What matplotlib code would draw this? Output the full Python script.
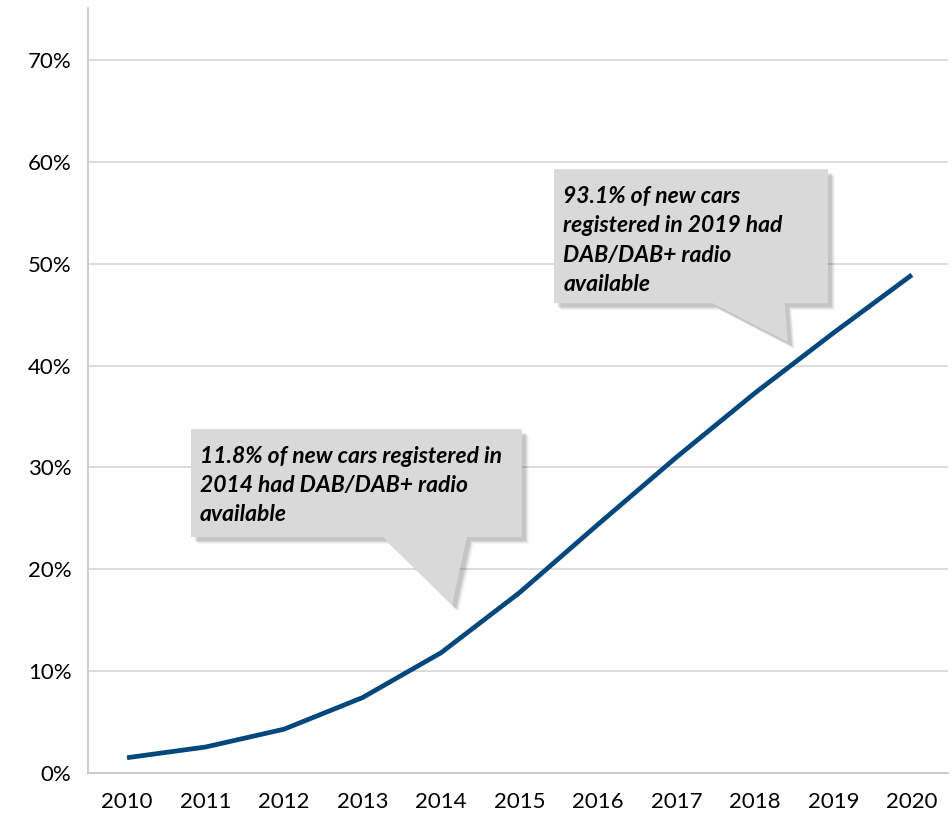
import numpy as np
import matplotlib.pyplot as plt
import matplotlib.transforms as mtransforms
from matplotlib.patches import Polygon

plt.rcParams['font.family'] = ['Lato', 'DejaVu Sans']

# share of new cars with DAB/DAB+ radio, in percent
years = [2010, 2011, 2012, 2013, 2014, 2015, 2016, 2017, 2018, 2019, 2020]
share = [1.5, 2.55, 4.3, 7.4, 11.8, 17.7, 24.4, 31.0, 37.3, 43.2, 48.9]
yticks = [0, 10, 20, 30, 40, 50, 60, 70]

note_2014 = '11.8% of new cars registered in\n2014 had DAB/DAB+ radio\navailable'
note_2019 = '93.1% of new cars\nregistered in 2019 had\nDAB/DAB+ radio\navailable'

fig = plt.figure(figsize=(9.53, 8.21), dpi=100)
ax = fig.add_axes([88 / 953, 48 / 821, 860 / 953, 765 / 821])

ax.plot(years, share, color='#00477d', lw=3.4, solid_capstyle='butt', zorder=3)

ax.set_xlim(2009.503, 2020.46)
ax.set_ylim(0, 75.1)
ax.set_xticks(years)
ax.set_xticklabels([str(y) for y in years])
ax.set_yticks(yticks)
ax.set_yticklabels(['%d%%' % v for v in yticks])
ax.tick_params(length=0, labelsize=16, colors='black')
ax.tick_params(axis='x', pad=14)
ax.tick_params(axis='y', pad=12)
ax.grid(axis='y', color='#d9d9d9', lw=1.3)
ax.set_axisbelow(True)
for s in ['top', 'right']:
    ax.spines[s].set_visible(False)
for s in ['left', 'bottom']:
    ax.spines[s].set_color('#c8c8c8')
    ax.spines[s].set_linewidth(1.3)


def callout(x0, x1, y0, y1, b0, b1, tip, text, tx, ty):
    # rectangle with a wedge pointing down towards the curve
    pts = [(x0, y1), (x1, y1), (x1, y0), (b1, y0), tip, (b0, y0), (x0, y0)]
    for i, a in enumerate([0.05, 0.07, 0.09, 0.12]):
        off = mtransforms.offset_copy(ax.transData, fig=fig, x=7 - i, y=-(7 - i), units='dots')
        ax.add_patch(Polygon(pts, closed=True, facecolor='#404040', edgecolor='none',
                             alpha=a, transform=off, zorder=4))
    ax.add_patch(Polygon(pts, closed=True, facecolor='#d9d9d9', edgecolor='none', zorder=5))
    ax.text(tx, ty, text, fontsize=16.5, fontweight='bold', fontstyle='italic',
            color='black', va='top', ha='left', linespacing=1.48, zorder=6)


callout(2010.815, 2015.03, 23.16, 33.76, 2013.26, 2014.33, (2014.14, 16.5),
        note_2014, 2010.93, 32.1)
callout(2015.44, 2018.93, 46.12, 59.27, 2017.46, 2018.38, (2018.42, 42.3),
        note_2019, 2015.56, 57.6)

fig.savefig('out.png', dpi=100)
